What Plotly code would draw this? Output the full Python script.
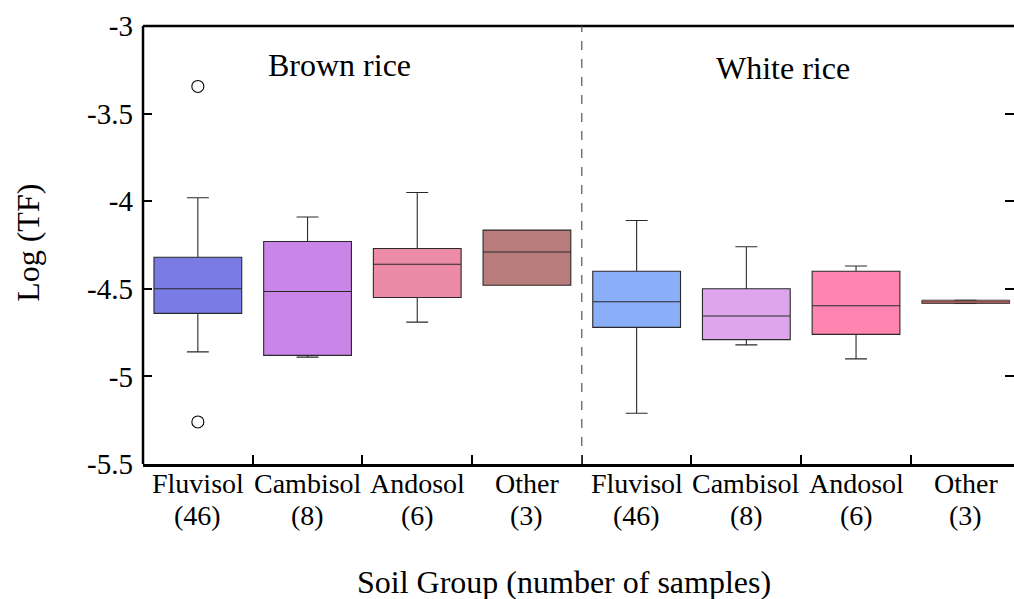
import plotly.graph_objects as go

# ---- data ----
groups = ["Fluvisol", "Cambisol", "Andosol", "Other",
          "Fluvisol", "Cambisol", "Andosol", "Other"]
counts = [46, 8, 6, 3, 46, 8, 6, 3]
positions = [0, 1, 2, 3, 4, 5, 6, 7]
lower_whisker = [-4.86, -4.89, -4.69, -4.48, -5.21, -4.82, -4.90, -4.584]
q1 = [-4.64, -4.88, -4.55, -4.48, -4.72, -4.79, -4.76, -4.584]
median = [-4.50, -4.515, -4.36, -4.29, -4.574, -4.655, -4.597, -4.575]
q3 = [-4.32, -4.23, -4.27, -4.165, -4.40, -4.50, -4.40, -4.565]
upper_whisker = [-3.98, -4.09, -3.95, -4.165, -4.11, -4.26, -4.37, -4.565]
fill_colors = ["#7b7be6", "#c986e8", "#eb8ba8", "#b87c7c",
               "#8aaef8", "#dda6ec", "#ff85b0", "#e07878"]
outlier_x = [0, 0]
outlier_y = [-3.345, -5.26]
y_ticks = [-3, -3.5, -4, -4.5, -5, -5.5]
y_tick_text = ["-3", "-3.5", "-4", "-4.5", "-5", "-5.5"]
panel_labels = ["Brown rice", "White rice"]
panel_label_x = [1.29, 5.33]
panel_label_y = [-3.22, -3.24]

FONT = "Liberation Serif, Times New Roman, serif"

fig = go.Figure()
for i in range(len(groups)):
    fig.add_trace(go.Box(
        x=[positions[i]], q1=[q1[i]], median=[median[i]], q3=[q3[i]],
        lowerfence=[lower_whisker[i]], upperfence=[upper_whisker[i]],
        width=0.8, whiskerwidth=0.25, fillcolor=fill_colors[i],
        line=dict(color="#2a2a2a", width=1.1 if i < 7 else 0.8),
        boxpoints=False, showlegend=False, hoverinfo="skip",
    ))

fig.add_trace(go.Scatter(
    x=outlier_x, y=outlier_y, mode="markers",
    marker=dict(symbol="circle-open", size=12, color="black",
                line=dict(width=1.1, color="black")),
    showlegend=False, hoverinfo="skip",
))

for t, xx, yy in zip(panel_labels, panel_label_x, panel_label_y):
    fig.add_annotation(x=xx, y=yy, xref="x", yref="y", text=t,
                       showarrow=False, font=dict(size=32, family=FONT, color="black"))

# category labels (two lines) as annotations
for p, g, c in zip(positions, groups, counts):
    fig.add_annotation(x=p, xref="x", y=-0.0434, yref="paper", text=g,
                       showarrow=False, yanchor="middle",
                       font=dict(size=28, family=FONT, color="black"))
    fig.add_annotation(x=p, xref="x", y=-0.1187, yref="paper", text=f"({c})",
                       showarrow=False, yanchor="middle",
                       font=dict(size=28, family=FONT, color="black"))

# axis titles as annotations
fig.add_annotation(x=3.34, xref="x", y=-0.27, yref="paper",
                   text="Soil Group (number of samples)", showarrow=False,
                   yanchor="middle", font=dict(size=32, family=FONT, color="black"))
fig.add_annotation(x=-0.132, xref="paper", y=0.505, yref="paper",
                   text="Log (TF)", textangle=-90, showarrow=False,
                   xanchor="center", yanchor="middle",
                   font=dict(size=32, family=FONT, color="black"))

# frame lines and separator
fig.add_shape(type="line", xref="paper", yref="paper", x0=0, x1=1, y0=1, y1=1,
              line=dict(color="black", width=2.5))
fig.add_shape(type="line", xref="paper", yref="paper", x0=0, x1=0, y0=0, y1=1,
              line=dict(color="black", width=2.5))
fig.add_shape(type="line", xref="x", yref="paper", x0=3.5, x1=3.5, y0=0, y1=1,
              line=dict(color="#555555", width=1.2, dash="dash"))

fig.update_layout(
    width=1014, height=599,
    margin=dict(l=143, r=0, t=26, b=135),
    plot_bgcolor="white", paper_bgcolor="white",
    boxmode="overlay", showlegend=False,
    font=dict(family=FONT, size=27, color="black"),
    xaxis=dict(
        range=[-0.5, 7.44], tickmode="array", tickvals=positions,
        showticklabels=False,
        ticks="", showgrid=False, zeroline=False,
        showline=True, linecolor="black", linewidth=2.5,
        minor=dict(tick0=0.5, dtick=1, ticks="inside", ticklen=9,
                   tickwidth=2, tickcolor="black", showgrid=False),
    ),
    yaxis=dict(
        range=[-5.5, -3], tickmode="array", tickvals=y_ticks, ticktext=y_tick_text,
        ticks="inside", ticklen=9, tickwidth=2, tickcolor="black",
        mirror="ticks", showline=False, showgrid=False, zeroline=False,
        ticklabelstandoff=9,
        tickfont=dict(size=29, family=FONT, color="black"),
    ),
)

fig.write_html("out.html", config={"displayModeBar": False},
               post_script="document.body.style.margin='0';document.body.style.overflow='hidden';")
